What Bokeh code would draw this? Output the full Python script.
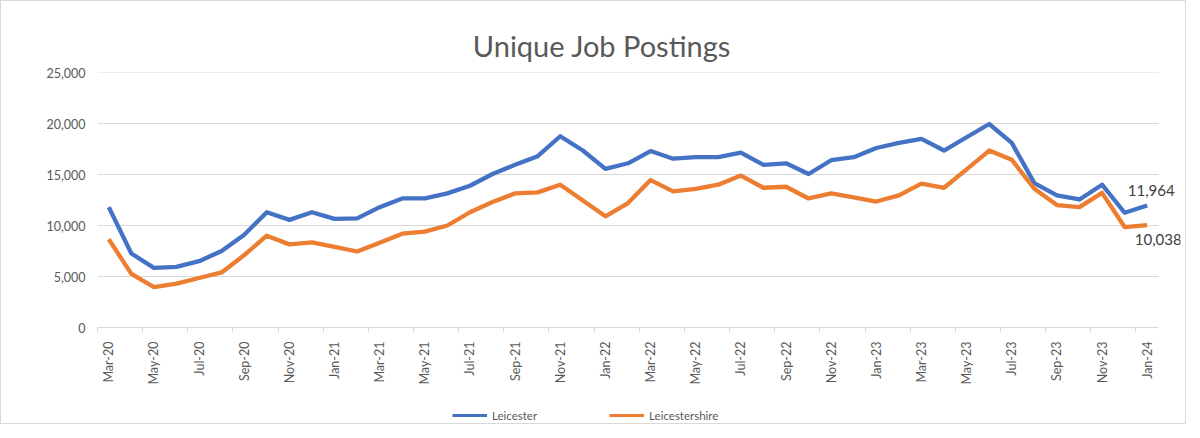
from bokeh.plotting import figure
from bokeh.layouts import column
from bokeh.models import (Range1d, FixedTicker, NumeralTickFormatter, Legend, LegendItem,
                          Label, ColumnDataSource)
from bokeh.embed import file_html
from bokeh.resources import INLINE
import math

months = ["Mar-20", "Apr-20", "May-20", "Jun-20", "Jul-20", "Aug-20", "Sep-20", "Oct-20", "Nov-20", "Dec-20",
          "Jan-21", "Feb-21", "Mar-21", "Apr-21", "May-21", "Jun-21", "Jul-21", "Aug-21", "Sep-21", "Oct-21", "Nov-21", "Dec-21",
          "Jan-22", "Feb-22", "Mar-22", "Apr-22", "May-22", "Jun-22", "Jul-22", "Aug-22", "Sep-22", "Oct-22", "Nov-22", "Dec-22",
          "Jan-23", "Feb-23", "Mar-23", "Apr-23", "May-23", "Jun-23", "Jul-23", "Aug-23", "Sep-23", "Oct-23", "Nov-23", "Dec-23",
          "Jan-24"]

leicester = [11800, 7250, 5850, 5950, 6500, 7500, 9100, 11300, 10550, 11300,
             10650, 10700, 11800, 12650, 12650, 13150, 13900, 15050, 15950, 16800, 18750, 17350,
             15550, 16100, 17300, 16550, 16700, 16700, 17150, 15950, 16100, 15050, 16400, 16700,
             17600, 18100, 18500, 17350, 18650, 19950, 18100, 14150, 12950, 12550, 14000, 11250,
             11964]

leicestershire = [8650, 5250, 3950, 4300, 4850, 5400, 7100, 9000, 8150, 8350,
                  7900, 7450, 8300, 9200, 9400, 10000, 11300, 12300, 13150, 13250, 14000, 12450,
                  10900, 12200, 14450, 13350, 13600, 14000, 14900, 13700, 13800, 12650, 13150, 12750,
                  12350, 12950, 14100, 13700, 15500, 17350, 16450, 13600, 12000, 11800, 13200, 9850,
                  10038]

y_ticks = [0, 5000, 10000, 15000, 20000, 25000]
title_text = "Unique Job Postings"
series_names = ["Leicester", "Leicestershire"]

FONT = "Lato"
GREY = "#595959"
BLUE = "#4472C4"
ORANGE = "#ED7D31"
GRID = "#d9d9d9"

n = len(months)
x = list(range(n))
src = ColumnDataSource(dict(x=x, a=leicester, b=leicestershire))

W, LEFT, RIGHT = 1184, 96, 5
px_per_unit = 1061 / n
x_end = -0.5 + (W - LEFT - RIGHT) / px_per_unit


def blank(height):
    f = figure(width=W, height=height, output_backend="svg", toolbar_location=None,
               x_range=Range1d(0, 1), y_range=Range1d(0, height),
               min_border_left=0, min_border_right=0, min_border_top=0, min_border_bottom=0)
    f.axis.visible = False
    f.grid.visible = False
    f.outline_line_color = None
    f.background_fill_color = "white"
    f.border_fill_color = "white"
    return f


# title strip
p0 = blank(63)
p0.add_layout(Label(x=0.5, y=19, x_offset=-37, text=title_text, text_align="center",
                    text_baseline="middle", text_font=FONT, text_font_size="29px", text_color=GREY))

# main chart
p = figure(width=W, height=332, output_backend="svg", toolbar_location=None,
           x_range=Range1d(-0.5, x_end), y_range=Range1d(0, 25000),
           min_border_left=LEFT, min_border_right=RIGHT, min_border_top=8, min_border_bottom=69)
p.outline_line_color = None
p.background_fill_color = "white"
p.border_fill_color = "white"

p.yaxis.ticker = FixedTicker(ticks=y_ticks)
p.yaxis.formatter = NumeralTickFormatter(format="0,0")
p.yaxis.axis_line_color = None
p.yaxis.major_tick_line_color = None
p.yaxis.minor_tick_line_color = None
p.yaxis.major_tick_out = 0
p.yaxis.major_label_standoff = 12
p.yaxis.major_label_text_font = FONT
p.yaxis.major_label_text_font_size = "12.5px"
p.yaxis.major_label_text_color = GREY

even = list(range(0, n, 2))
p.xaxis.ticker = FixedTicker(ticks=even, minor_ticks=[i - 0.5 for i in range(0, n, 2)])
p.xaxis.major_label_overrides = {i: months[i] for i in even}
p.xaxis.major_label_orientation = math.pi / 2
p.xaxis.bounds = (-0.5, n - 0.5)
p.xaxis.axis_line_color = GRID
p.xaxis.major_tick_line_color = None
p.xaxis.major_tick_out = 0
p.xaxis.minor_tick_line_color = GRID
p.xaxis.minor_tick_out = 5
p.xaxis.minor_tick_in = 0
p.xaxis.major_label_standoff = 9
p.xaxis.major_label_text_font = FONT
p.xaxis.major_label_text_font_size = "12.5px"
p.xaxis.major_label_text_color = GREY

p.xgrid.grid_line_color = None
p.ygrid.grid_line_color = None
gy = [v for v in y_ticks if v > 0]
p.segment(x0=[-0.5] * len(gy), x1=[n - 0.5] * len(gy), y0=gy, y1=gy,
          line_color=GRID, line_width=1)

p.line("x", "a", source=src, line_color=BLUE, line_width=4.3, line_join="round")
p.line("x", "b", source=src, line_color=ORANGE, line_width=4.3, line_join="round")

p.add_layout(Label(x=x[-1], y=leicester[-1], text=f"{leicester[-1]:,}", text_align="center",
                   text_baseline="bottom", y_offset=9, x_offset=4, text_font=FONT, text_font_size="15px",
                   text_color="#404040"))
p.add_layout(Label(x=x[-1], y=leicestershire[-1], text=f"{leicestershire[-1]:,}", text_align="center",
                   text_baseline="top", y_offset=-9, x_offset=11, text_font=FONT, text_font_size="15px",
                   text_color="#404040"))

# legend strip
p2 = blank(27)
l1 = p2.line([-5, -4], [-5, -4], line_color=BLUE, line_width=3)
l2 = p2.line([-5, -4], [-5, -4], line_color=ORANGE, line_width=3)
legend = Legend(items=[LegendItem(label=series_names[0], renderers=[l1]),
                       LegendItem(label=series_names[1], renderers=[l2])],
                orientation="horizontal", location=(355, 1))
legend.border_line_color = None
legend.background_fill_alpha = 0
legend.label_text_font = FONT
legend.label_text_font_size = "11.5px"
legend.label_text_color = GREY
legend.label_height = 14
legend.glyph_width = 35
legend.glyph_height = 10
legend.label_standoff = 5
legend.spacing = 72
legend.padding = 0
legend.margin = 0
p2.add_layout(legend, "center")

layout = column(p0, p, p2, spacing=0, styles={"border": "1px solid #d9d9d9"})
open("out.html", "w").write(file_html(layout, INLINE))
